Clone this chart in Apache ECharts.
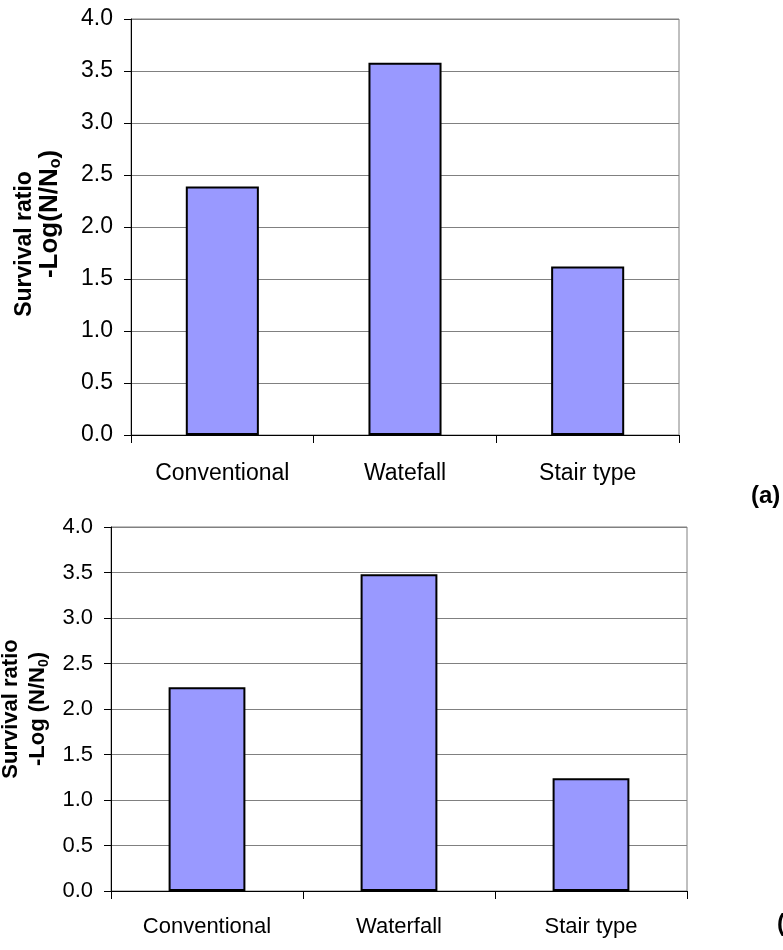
<!DOCTYPE html>
<html>
<head>
<meta charset="utf-8">
<script src="https://cdn.jsdelivr.net/npm/echarts@6/dist/echarts.min.js"></script>
<style>html,body{margin:0;padding:0;background:#fff}#c{width:783px;height:950px}</style>
</head>
<body>
<div id="c"></div>
<script>
const categoriesA = ['Conventional', 'Watefall', 'Stair type'];
const valuesA = [2.39, 3.58, 1.62];
const categoriesB = ['Conventional', 'Waterfall', 'Stair type'];
const valuesB = [2.24, 3.48, 1.24];
const yTicks = { min: 0, max: 4, interval: 0.5 };

const chart = echarts.init(document.getElementById('c'), null, { renderer: 'canvas' });
const FONT = 'Liberation Sans, Arial';

function yAxisCfg(gridIndex, fs, t) {
  const subFs = Math.round(t.fs2 * 0.62);
  return {
    type: 'value', gridIndex, min: yTicks.min, max: yTicks.max, interval: yTicks.interval,
    axisLine: { show: true, lineStyle: { color: '#000', width: 1 } },
    axisTick: { show: true, length: 7, lineStyle: { color: '#000' } },
    axisLabel: { color: '#000', fontFamily: FONT, fontSize: fs, margin: 18,
      formatter: v => v.toFixed(1) },
    splitLine: { show: true, lineStyle: { color: '#808080', width: 1 } },
    name: '{a|Survival ratio}\n{b|-Log' + t.sep + '(N/N}{s|' + t.sub + '}{c|)}',
    nameLocation: 'middle', nameRotate: 90, nameGap: t.gap,
    nameTextStyle: {
      color: '#000', fontFamily: FONT, fontWeight: 'bold', fontSize: t.fs1,
      rich: {
        a: { fontFamily: FONT, fontWeight: 'bold', fontSize: t.fs1, lineHeight: t.lh1, color: '#000', padding: [0, t.pad1, 0, 0] },
        b: { fontFamily: FONT, fontWeight: 'bold', fontSize: t.fs2, lineHeight: t.lh2, color: '#000', padding: [0, 0, 0, t.pad2] },
        s: { fontFamily: FONT, fontWeight: 'bold', fontSize: subFs, lineHeight: subFs, verticalAlign: 'bottom', color: '#000' },
        c: { fontFamily: FONT, fontWeight: 'bold', fontSize: t.fs2, lineHeight: t.lh2, color: '#000' }
      }
    }
  };
}
function xAxisCfg(gridIndex, cats, fs, margin) {
  return {
    type: 'category', gridIndex, data: cats,
    axisLine: { show: true, lineStyle: { color: '#000', width: 1 } },
    axisTick: { show: true, length: 8, lineStyle: { color: '#000' } },
    axisLabel: { color: '#000', fontFamily: FONT, fontSize: fs, margin: margin, interval: 0 }
  };
}

chart.setOption({
  animation: false,
  backgroundColor: '#fff',
  grid: [
    { left: 131, top: 19, width: 548, height: 416, show: true, borderColor: '#808080', borderWidth: 1, containLabel: false, outerBoundsMode: 'none' },
    { left: 111, top: 527, width: 576, height: 364, show: true, borderColor: '#808080', borderWidth: 1, containLabel: false, outerBoundsMode: 'none' }
  ],
  xAxis: [xAxisCfg(0, categoriesA, 23, 27), xAxisCfg(1, categoriesB, 22, 25)],
  yAxis: [
    yAxisCfg(0, 23, { fs1: 23, fs2: 26, lh1: 22, lh2: 28, gap: 67, sub: 'o', sep: '', pad1: 34, pad2: 26 }),
    yAxisCfg(1, 22, { fs1: 22, fs2: 22, lh1: 26, lh2: 28, gap: 53, sub: '0', sep: ' ', pad1: 0, pad2: 0 })
  ],
  series: [
    { type: 'bar', xAxisIndex: 0, yAxisIndex: 0, data: valuesA, barWidth: '40%',
      itemStyle: { color: '#9999FF', borderColor: '#000', borderWidth: 2 } },
    { type: 'bar', xAxisIndex: 1, yAxisIndex: 1, data: valuesB, barWidth: '40%',
      itemStyle: { color: '#9999FF', borderColor: '#000', borderWidth: 2 } }
  ],
  graphic: [
    { type: 'text', left: 751, top: 484, style: { text: '(a)', fill: '#000', font: 'bold 24px "Liberation Sans", Arial' } },
    { type: 'text', left: 777, top: 912, style: { text: '(b)', fill: '#000', font: 'bold 24px "Liberation Sans", Arial' } }
  ]
});
</script>
</body>
</html>
